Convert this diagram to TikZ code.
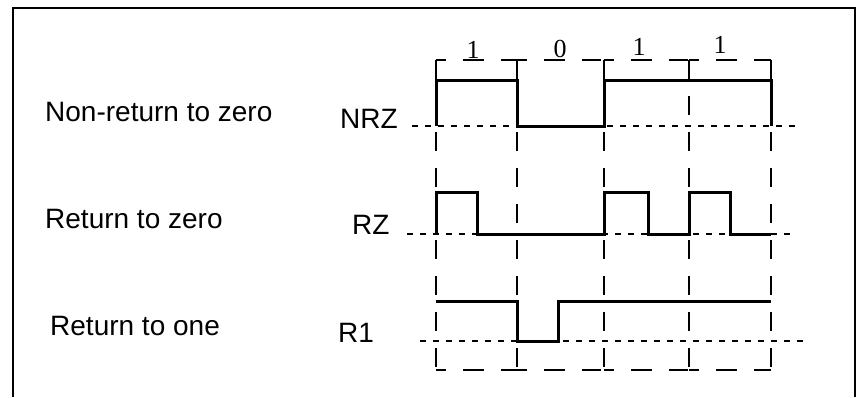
\documentclass[tikz,border=0pt]{standalone}
\usepackage{fontspec}
\setmainfont{Liberation Sans}
\newfontfamily\digitfont{Liberation Serif}
\usetikzlibrary{calc}
\tikzset{
  frame/.style={line width=2.6pt},
  signal/.style={line width=3pt,line join=miter},
  level/.style={line width=1.5pt,dash pattern=on 6pt off 7pt},
  slot/.style={line width=2pt,dash pattern=on 19pt off 17pt},
  bracket/.style={line width=2pt,dash pattern=on 10pt off 17pt on 21pt off 17pt on 19pt},
  lbl/.style={anchor=base west,inner sep=0pt,font=\fontsize{28}{32}\selectfont},
  bit/.style={anchor=base,inner sep=0pt,font=\digitfont\fontsize{26}{30}\selectfont},
}
\begin{document}
\begin{tikzpicture}[x=1pt,y=-1pt]
  \useasboundingbox (0,0) rectangle (857,397);
  % open frame
  \draw[frame] (13,397) -- (13,8) -- (855,8) -- (855,397);
  % bit slots
  \foreach \x in {436,517,604,689,771}
    \draw[slot] (\x,60) -- (\x,370);
  \foreach \a/\b in {436/517,517/604,604/689,689/771}{
    \draw[bracket] (\a,60) -- (\b,60);
    \draw[bracket] (\a,370) -- (\b,370);
  }
  \node[bit] (b1) at (473,58) {1};
  \node[bit] (b2) at (560,57) {0};
  \node[bit] (b3) at (639,55) {1};
  \node[bit] (b4) at (720,53) {1};
  % zero levels
  \draw[level] (412,126) -- (800,126);
  \draw[level] (407,234) -- (797,234);
  \draw[level] (420,341) -- (810,341);
  % waveforms
  \draw[signal] (436,126) |- (517,80) |- (604,126) |- (771,80) -- (771,126);
  \draw[signal] (436,234) |- (477,192) |- (604,234) |- (648,192) |- (689,234)
    |- (730,192) |- (771,234);
  \draw[signal] (436,301) -| (517,341) -| (558,301) -- (771,301);
  % labels
  \node[lbl] (nrzname) at (45,121) {Non-return to zero};
  \node[lbl] (rzname) at (45,228) {Return to zero};
  \node[lbl] (roname) at (50,335) {Return to one};
  \node[lbl] (nrz) at (340,128) {NRZ};
  \node[lbl] (rz) at (352,234) {RZ};
  \node[lbl] (ro) at (338,342) {R1};
\end{tikzpicture}
\end{document}
